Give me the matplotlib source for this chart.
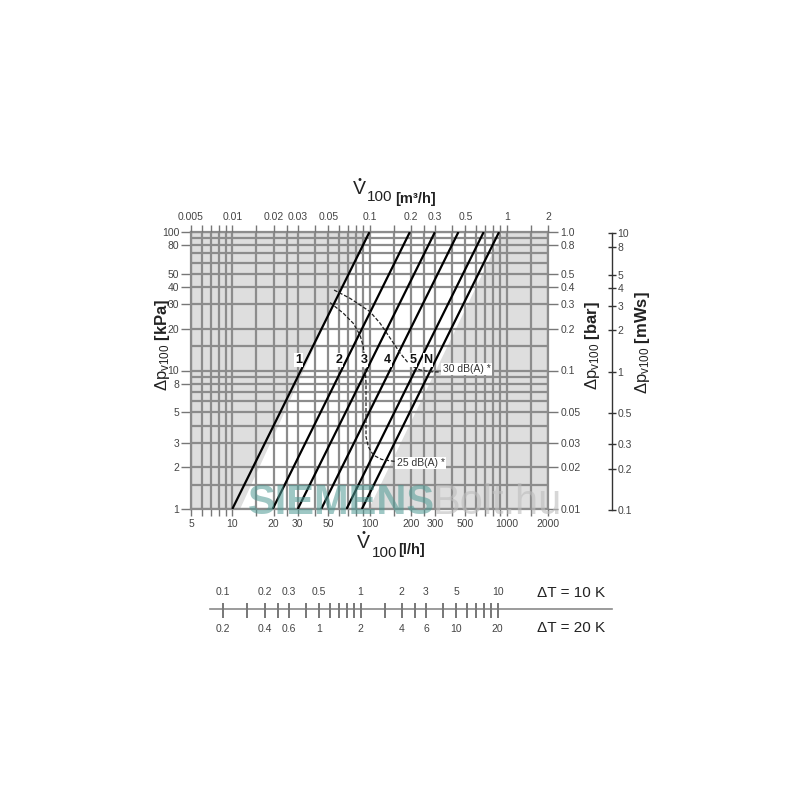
import numpy as np
import matplotlib
matplotlib.use('Agg')
import matplotlib.pyplot as plt
from matplotlib.ticker import FixedLocator, FixedFormatter, NullFormatter

plt.rcParams['font.family'] = ['Liberation Sans', 'DejaVu Sans']
plt.rcParams['mathtext.fontset'] = 'custom'
plt.rcParams['mathtext.rm'] = 'Liberation Sans'
plt.rcParams['mathtext.bf'] = 'Liberation Sans:bold'
plt.rcParams['mathtext.it'] = 'Liberation Sans:italic'

# ---------------- data ----------------
line_names = ['1', '2', '3', '4', '5', 'N']
flow_at_1kpa = [10, 19.7, 30, 44.5, 68, 88]          # l/h at 1 kPa (dp ~ V^2)

noise30_flow = [55.2, 72.1, 100.8, 119.2, 141, 166.7, 197, 233, 275, 326]
noise30_dp = [38.1, 33.2, 26.6, 22.0, 17.2, 13.4, 10.96, 10.1, 9.8, 9.75]
noise25_flow = [51.6, 64.5, 76.2, 85.3, 90.1, 92.8, 94.3, 94.3, 98.0, 106.6, 122.6, 141, 156]
noise25_dp = [30.9, 25.9, 21.9, 18.0, 14.9, 10.96, 8.12, 3.33, 2.82, 2.45, 2.28, 2.23, 2.20]

band_flow = [11.4, 64.1, 100, 935, 99]
band_dp = [1, 41.4, 100, 100, 1]

flow_grid = [5, 6, 7, 8, 9, 10, 15, 20, 25, 30, 40, 50, 60, 70, 80, 90, 100, 150, 200, 250,
             300, 400, 500, 600, 700, 800, 900, 1000, 1500, 2000]
dp_grid = [1, 1.5, 2, 3, 4, 5, 6, 7, 8, 9, 10, 15, 20, 30, 40, 50, 60, 70, 80, 90, 100]

flow_ticks = [5, 10, 20, 30, 50, 100, 200, 300, 500, 1000, 2000]
flow_labels = ['5', '10', '20', '30', '50', '100', '200', '300', '500', '1000', '2000']
m3h_ticks = [0.005, 0.01, 0.02, 0.03, 0.05, 0.1, 0.2, 0.3, 0.5, 1, 2]
m3h_labels = ['0.005', '0.01', '0.02', '0.03', '0.05', '0.1', '0.2', '0.3', '0.5', '1', '2']
kpa_ticks = [1, 2, 3, 5, 8, 10, 20, 30, 40, 50, 80, 100]
kpa_labels = ['1', '2', '3', '5', '8', '10', '20', '30', '40', '50', '80', '100']
bar_ticks = [0.01, 0.02, 0.03, 0.05, 0.1, 0.2, 0.3, 0.4, 0.5, 0.8, 1.0]
bar_labels = ['0.01', '0.02', '0.03', '0.05', '0.1', '0.2', '0.3', '0.4', '0.5', '0.8', '1.0']
mws_ticks = [0.1, 0.2, 0.3, 0.5, 1, 2, 3, 4, 5, 8, 10]
mws_labels = ['0.1', '0.2', '0.3', '0.5', '1', '2', '3', '4', '5', '8', '10']

dt_ticks = [0.1, 0.15, 0.2, 0.25, 0.3, 0.4, 0.5, 0.6, 0.7, 0.8, 0.9, 1,
            1.5, 2, 2.5, 3, 4, 5, 6, 7, 8, 9, 10]
dt_label_pos = [0.1, 0.2, 0.3, 0.5, 1, 2, 3, 5, 10]
dt10_labels = ['0.1', '0.2', '0.3', '0.5', '1', '2', '3', '5', '10']
dt20_labels = ['0.2', '0.4', '0.6', '1', '2', '4', '6', '10', '20']

# ---------------- layout ----------------
W = 800.0
def fx(px):
    return px / W
def fy(py):
    return 1 - py / W

GRID = '#8c8c8c'
TXT = '#444444'

fig = plt.figure(figsize=(8, 8), dpi=100)
L, R, T, B = 191, 548, 232, 509
ax = fig.add_axes([fx(L), fy(B), (R - L) / W, (B - T) / W])
ax.set_xscale('log')
ax.set_yscale('log')
ax.set_xlim(5, 2000)
ax.set_ylim(1, 100)
ax.set_facecolor('#dedede')
ax.fill(band_flow, band_dp, color='white', zorder=0.5, lw=0)

for v in flow_grid:
    ax.axvline(v, color=GRID, lw=1.6, zorder=1)
for v in dp_grid:
    ax.axhline(v, color=GRID, lw=1.6, zorder=1)
for s in ax.spines.values():
    s.set_color(GRID)
    s.set_linewidth(1.6)

def style_ticks(a, axis, major, labels, side_minor):
    pass

# bottom axis (l/h)
ax.xaxis.set_major_locator(FixedLocator(flow_ticks))
ax.xaxis.set_major_formatter(FixedFormatter(flow_labels))
ax.xaxis.set_minor_locator(FixedLocator(flow_grid))
ax.xaxis.set_minor_formatter(NullFormatter())
ax.yaxis.set_major_locator(FixedLocator(kpa_ticks))
ax.yaxis.set_major_formatter(FixedFormatter(kpa_labels))
ax.yaxis.set_minor_locator(FixedLocator([]))
ax.tick_params(axis='both', which='both', direction='out', color='#777777', width=1,
               labelsize=7.5, labelcolor=TXT)
ax.tick_params(axis='x', which='both', length=5, pad=2)
ax.tick_params(axis='y', which='major', length=7, pad=1.5)

# top axis (m3/h)
axt = ax.twiny()
axt.set_xscale('log')
axt.set_xlim(0.005, 2)
axt.xaxis.set_major_locator(FixedLocator(m3h_ticks))
axt.xaxis.set_major_formatter(FixedFormatter(m3h_labels))
axt.xaxis.set_minor_locator(FixedLocator([v / 1000 for v in flow_grid]))
axt.xaxis.set_minor_formatter(NullFormatter())
axt.tick_params(axis='x', which='both', direction='out', length=5, color='#777777', width=1,
                labelsize=7.5, labelcolor=TXT, pad=2)
for s in axt.spines.values():
    s.set_visible(False)

# right axis (bar)
axr = ax.twinx()
axr.set_yscale('log')
axr.set_ylim(0.01, 1)
axr.yaxis.set_major_locator(FixedLocator(bar_ticks))
axr.yaxis.set_major_formatter(FixedFormatter(bar_labels))
axr.yaxis.set_minor_locator(FixedLocator([]))
axr.tick_params(axis='y', which='major', direction='out', length=7, color='#777777', width=1,
                labelsize=7.5, labelcolor=TXT, pad=2)
for s in axr.spines.values():
    s.set_visible(False)

# characteristic lines
for q1, name in zip(flow_at_1kpa, line_names):
    ax.plot([q1, q1 * 10], [1, 100], color='black', lw=1.6, zorder=3, solid_capstyle='butt')
    ax.text(q1 * np.sqrt(11.9) * 0.88, 11.9, name, ha='center', va='center', fontsize=9,
            fontweight='bold', color='#111111', zorder=4,
            bbox=dict(fc='white', ec='none', pad=0.6))

# noise curves
ax.plot(noise30_flow, noise30_dp, color='#222222', lw=0.9, ls=(0, (3, 1.5)), zorder=3)
ax.plot(noise25_flow, noise25_dp, color='#222222', lw=0.9, ls=(0, (3, 1.5)), zorder=3)
ax.text(342, 10.25, '30 dB(A) *', fontsize=7.5, ha='left', va='center', color='#333333',
        zorder=4, bbox=dict(fc='white', ec='none', pad=1))
ax.text(158, 2.15, '25 dB(A) *', fontsize=7.5, ha='left', va='center', color='#333333',
        zorder=4, bbox=dict(fc='white', ec='none', pad=1))

# watermark
fig.text(fx(341), fy(503), 'SIEMENS', fontsize=30, fontweight='bold', color='#4f9a94',
         alpha=0.55, ha='center', va='center', zorder=10)
fig.text(fx(433), fy(503), 'Bolt.hu', fontsize=30, color='#bdbdbd', alpha=0.6,
         ha='left', va='center', zorder=10)

# mWs axis
axm = fig.add_axes([fx(612), fy(510.2), 0.0001, (B - T) / W])
axm.set_yscale('log')
axm.set_ylim(0.1, 10)
axm.set_xticks([])
for k in ['left', 'top', 'bottom']:
    axm.spines[k].set_visible(False)
axm.spines['right'].set_color('#333333')
axm.spines['right'].set_linewidth(1)
axm.patch.set_visible(False)
axm.yaxis.tick_right()
axm.yaxis.set_major_locator(FixedLocator(mws_ticks))
axm.yaxis.set_major_formatter(FixedFormatter(mws_labels))
axm.yaxis.set_minor_locator(FixedLocator([]))
axm.tick_params(axis='y', which='major', direction='inout', length=6, color='#333333', width=1,
                labelsize=7.5, labelcolor=TXT, pad=1)

# axis titles
fig.text(fx(163), fy(345), r'$\Delta$p$_{\mathrm{v100}}$ $\mathbf{[kPa]}$', rotation=90,
         fontsize=12, ha='center', va='center', color='#222222')
fig.text(fx(592), fy(346), r'$\Delta$p$_{\mathrm{v100}}$ $\mathbf{[bar]}$', rotation=90,
         fontsize=12, ha='center', va='center', color='#222222')
fig.text(fx(642), fy(343), r'$\Delta$p$_{\mathrm{v100}}$ $\mathbf{[mWs]}$', rotation=90,
         fontsize=12, ha='center', va='center', color='#222222')

# flow titles
fig.text(fx(359.7), fy(190), 'V', fontsize=14, ha='center', va='center', color='#222222')
fig.text(fx(359.5), fy(180), '\u2022', fontsize=8, ha='center', va='center', color='#222222')
fig.text(fx(367), fy(197), '100', fontsize=11, ha='left', va='center', color='#222222')
fig.text(fx(395), fy(199.5), '[m\u00b3/h]', fontsize=10.5, fontweight='bold', ha='left',
         va='center', color='#222222')

fig.text(fx(363), fy(543), 'V', fontsize=14, ha='center', va='center', color='#222222')
fig.text(fx(363.3), fy(533), '\u2022', fontsize=8, ha='center', va='center', color='#222222')
fig.text(fx(371.5), fy(553), '100', fontsize=11, ha='left', va='center', color='#222222')
fig.text(fx(398), fy(550), '[l/h]', fontsize=10.5, fontweight='bold', ha='left',
         va='center', color='#222222')

# delta-T scale
axd = fig.add_axes([fx(L), fy(644), (R - L) / W, 70 / W])
axd.set_xscale('log')
axd.set_xlim(5 * 11.63 / 1000, 2000 * 11.63 / 1000)
axd.set_ylim(0, 1)
axd.axis('off')
x0 = (210 - L) / (R - L)
x1 = (612 - L) / (R - L)
axd.plot([x0, x1], [0.5, 0.5], transform=axd.transAxes, color='#8a8a8a', lw=1.2, clip_on=False)
axd.vlines(dt_ticks, 0.37, 0.59, color='#777777', lw=1.4)
for p, a, b in zip(dt_label_pos, dt10_labels, dt20_labels):
    axd.text(p, 0.745, a, ha='center', va='center', fontsize=7.5, color=TXT)
    axd.text(p, 0.215, b, ha='center', va='center', fontsize=7.5, color=TXT)
fig.text(fx(605), fy(593), '\u0394T = 10 K', fontsize=11, ha='right', va='center', color='#222222')
fig.text(fx(605), fy(628), '\u0394T = 20 K', fontsize=11, ha='right', va='center', color='#222222')

fig.savefig('out.png', dpi=100)
